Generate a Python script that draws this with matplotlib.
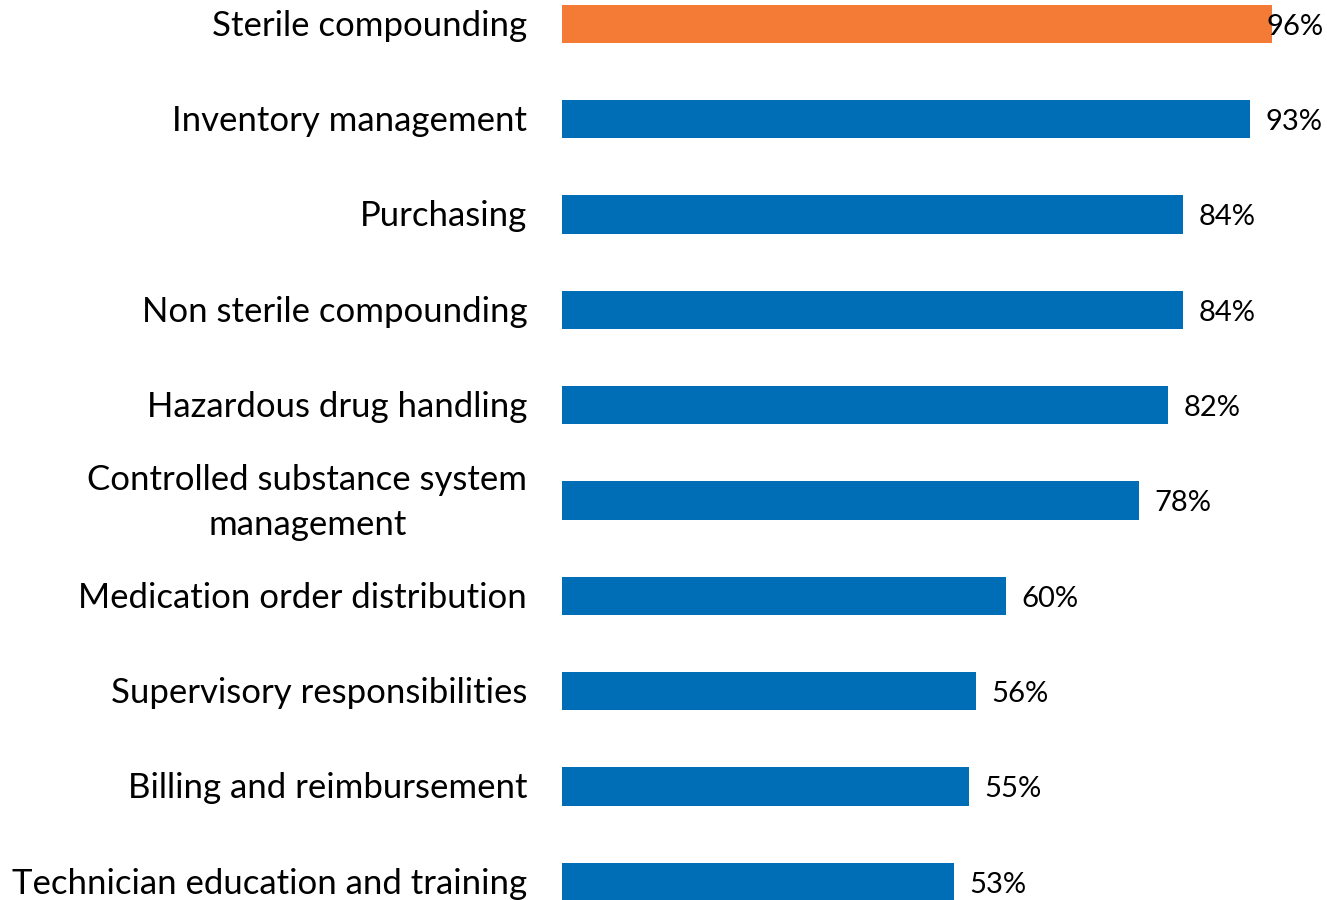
import matplotlib
matplotlib.use("Agg")
import matplotlib.pyplot as plt

plt.rcParams['font.family'] = ['Lato', 'DejaVu Sans']

categories = [
    "Sterile compounding",
    "Inventory management",
    "Purchasing",
    "Non sterile compounding",
    "Hazardous drug handling",
    "Controlled substance system\nmanagement",
    "Medication order distribution",
    "Supervisory responsibilities",
    "Billing and reimbursement",
    "Technician education and training",
]
values = [96, 93, 84, 84, 82, 78, 60, 56, 55, 53]
highlight = "Sterile compounding"

BLUE = "#006EB7"
ORANGE = "#F47B35"

fig = plt.figure(figsize=(13.27, 9.0), dpi=100)
ax = fig.add_axes([562 / 1327, 0.0, 739.6 / 1327, 1.0])

ypos = list(range(len(categories)))
colors = [ORANGE if c == highlight else BLUE for c in categories]
ax.barh(ypos, values, height=0.4, color=colors)

ax.set_xlim(0, 100)
ax.set_ylim(9.19, -0.25)

# value labels, kept inside the figure on the right
for y, v in zip(ypos, values):
    x = min(v + 2.1, 95.2)
    ax.text(x, y + 0.03, f"{v}%", va="center", ha="left", fontsize=21, color="black")

for y, c in zip(ypos, categories):
    ax.text(-4.7, y + 0.02, c, va="center", ha="right", multialignment="center",
            fontsize=25, color="black", linespacing=1.5)

ax.set_xticks([])
ax.set_yticks([])
for s in ax.spines.values():
    s.set_visible(False)

fig.savefig("out.png", dpi=100)
